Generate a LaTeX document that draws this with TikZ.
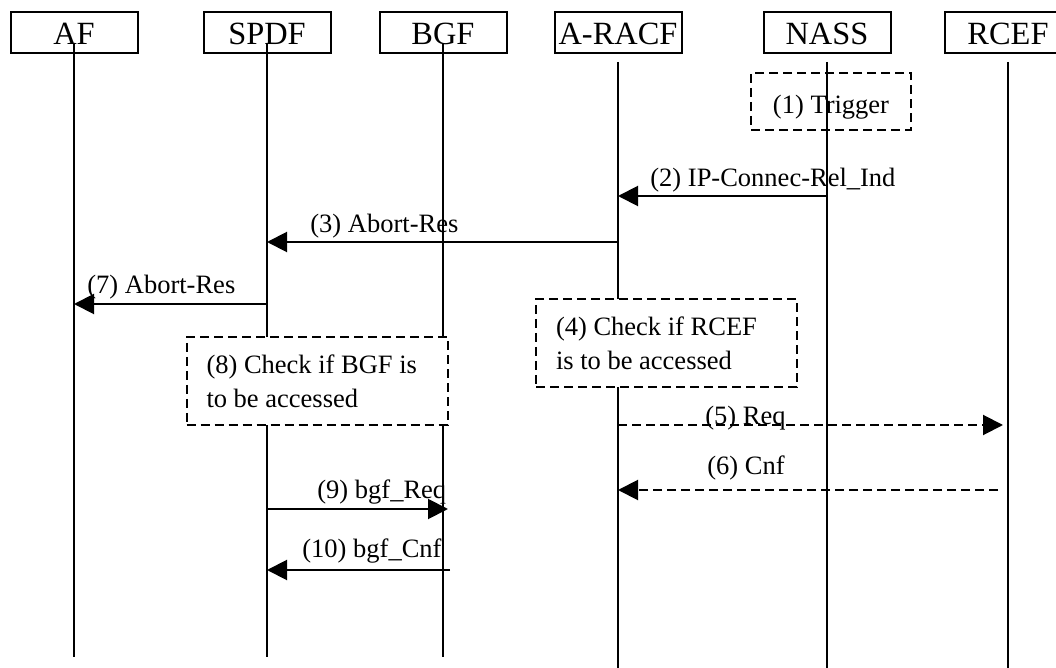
\documentclass[tikz,border=0pt]{standalone}
\usepackage{fontspec}
\setmainfont{Liberation Serif}
\usetikzlibrary{arrows.meta}
\begin{document}
\begin{tikzpicture}[x=0.5pt, y=-0.5pt,
        head/.style={draw, line width=1pt, minimum width=63.5pt, minimum height=20.5pt, inner sep=0pt, text height=12.5pt, text depth=0pt, font=\fontsize{16.2}{19}\selectfont},
        life/.style={line width=1pt},
        msg/.style={line width=1pt, -{Triangle[length=10pt, width=10pt]}},
        dmsg/.style={msg, dash pattern=on 4.5pt off 2.5pt},
        lbl/.style={anchor=base west, inner sep=0pt, font=\fontsize{13.25}{17}\selectfont},
        note/.style={draw, line width=1pt, dash pattern=on 4.5pt off 2.5pt, fill=white, inner xsep=10pt, text width=110.5pt, align=flush left, minimum height=44pt, font=\fontsize{13.25}{17}\selectfont}]
        \clip (0,0) rectangle (1056,668);
        \node[head] (AF) at (74,32.5) {AF};
        \node[head] (SPDF) at (267,32.5) {SPDF};
        \node[head] (BGF) at (443,32.5) {BGF};
        \node[head] (ARACF) at (618,32.5) {A-RACF};
        \node[head] (NASS) at (827,32.5) {NASS};
        \node[head] (RCEF) at (1008,32.5) {RCEF};
        \draw[life] (AF |- 0,44) -- (AF |- 0,657);
        \draw[life] (SPDF |- 0,44) -- (SPDF |- 0,657);
        \draw[life] (BGF |- 0,44) -- (BGF |- 0,657);
        \draw[life] (ARACF |- 0,62) -- (ARACF |- 0,670);
        \draw[life] (NASS |- 0,62) -- (NASS |- 0,670);
        \draw[life] (RCEF |- 0,62) -- (RCEF |- 0,670);
        \node[draw, line width=1pt, dash pattern=on 4.5pt off 2.5pt, minimum width=80pt, minimum height=28.5pt, text height=12.5pt, text depth=0pt, font=\fontsize{13.25}{17}\selectfont] (trig) at (831,101.5) {(1) Trigger};
        \draw[msg] (NASS |- 0,196) -- (ARACF |- 0,196);
        \node[lbl] (m2) at (650,187) {(2) IP-Connec-Rel\_Ind};
        \draw[msg] (ARACF |- 0,242) -- (SPDF |- 0,242);
        \node[lbl] (m3) at (310,233) {(3) Abort-Res};
        \draw[msg] (SPDF |- 0,304) -- (AF |- 0,304);
        \node[lbl] (m7) at (87,294) {(7) Abort-Res};
        \node[note] (chk4) at (666.5,343) {(4) Check if RCEF\\is to be accessed};
        \node[note] (chk8) at (317,381) {(8) Check if BGF is\\to be accessed};
        \draw[dmsg, shorten >=2.5pt] (ARACF |- 0,425) -- (RCEF |- 0,425);
        \node[lbl] (m5) at (705,425) {(5) Req};
        \draw[dmsg, shorten <=5pt] (RCEF |- 0,490) -- (ARACF |- 0,490);
        \node[lbl] (m6) at (707,474) {(6) Cnf};
        \draw[msg, shorten >=-2.5pt] (SPDF |- 0,509) -- (BGF |- 0,509);
        \node[lbl] (m9) at (317,499) {(9) bgf\_Req};
        \draw[msg, shorten <=-3.5pt] (BGF |- 0,570) -- (SPDF |- 0,570);
        \node[lbl] (m10) at (302,557) {(10) bgf\_Cnf};
    \end{tikzpicture}
\end{document}
